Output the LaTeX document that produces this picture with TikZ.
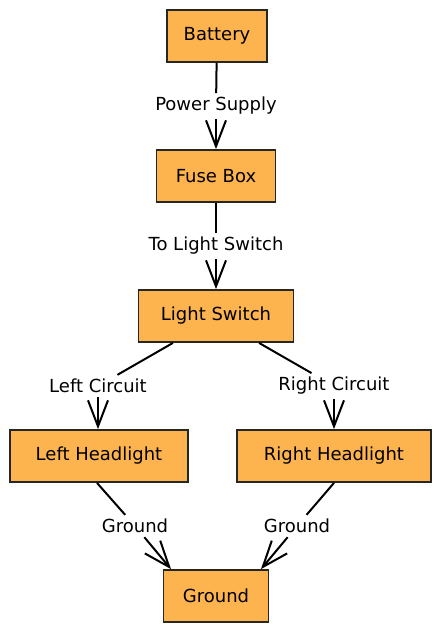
\documentclass[tikz,border=0pt]{standalone}
\usepackage{fontspec}
\setmainfont{DejaVu Sans}
\usepackage{tikz}
\usetikzlibrary{arrows.meta}
\definecolor{boxorange}{HTML}{FDB44E}

\begin{document}
\begin{tikzpicture}[x=1pt,y=-1pt,
		part/.style={draw=black!85,fill=boxorange,line width=1.8pt,minimum height=52pt,inner sep=0pt,font=\fontsize{18}{21}\selectfont},
		wire/.style={line width=2pt,black},
		lbl/.style={inner sep=4pt,font=\fontsize{18}{21}\selectfont},
		tip/.style={-{Straight Barb[length=26pt,width=20pt,line width=2pt]}}]
		\useasboundingbox (0,0) rectangle (441,633);
		% boxes
		\node[part,minimum width=100pt] (bat) at (217,36) {Battery};
		\node[part,minimum width=119pt] (fuse) at (216,176) {Fuse Box};
		\node[part,minimum width=155pt] (sw) at (216,316) {Light Switch};
		\node[part,minimum width=178pt] (lh) at (99,456) {Left Headlight};
		\node[part,minimum width=194pt] (rh) at (334,456) {Right Headlight};
		\node[part,minimum width=105pt] (gnd) at (216,596) {Ground};
		% labels
		\node[lbl] (ps) at (216,106) {Power Supply};
		\node[lbl] (tls) at (216,246) {To Light Switch};
		\node[lbl] (lc) at (98,386) {Left Circuit};
		\node[lbl] (rc) at (334,386) {Right Circuit};
		\node[lbl] (lg) at (135,526) {Ground};
		\node[lbl] (rg) at (297,526) {Ground};
		% wires
		\draw[wire] (bat) -- (ps);
		\draw[wire,tip] (ps) -- (fuse.north);
		\draw[wire] (fuse) -- (tls);
		\draw[wire,tip] (tls) -- (sw.north);
		\draw[wire] ([xshift=-43pt]sw.south) -- (lc);
		\draw[wire,tip] (lc.south) -- (lc.south |- lh.north);
		\draw[wire] ([xshift=43pt]sw.south) -- (rc);
		\draw[wire,tip] (rc.south) -- (rc.south |- rh.north);
		\draw[wire] ([xshift=-2pt]lh.south) -- (lg);
		\draw[wire,tip] (lg) -- ([xshift=-45pt]gnd.north);
		\draw[wire] (rh.south) -- (rg);
		\draw[wire,tip] (rg) -- ([xshift=45pt]gnd.north);
\end{tikzpicture}
\end{document}
